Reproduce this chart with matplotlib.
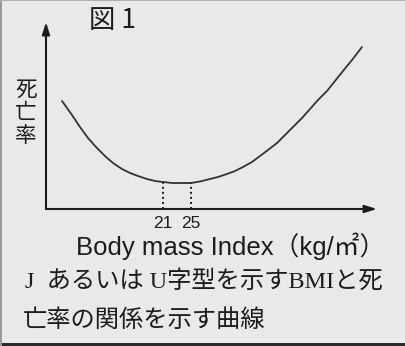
import matplotlib
matplotlib.use("Agg")
import matplotlib.pyplot as plt
from matplotlib.patches import Rectangle

# ---- data (schematic U-shaped curve) ----
bmi = [6.57, 7.29, 8.0, 9.14, 10.29, 11.43, 12.71, 13.86, 15.14, 16.29,
       17.43, 18.71, 19.86, 21.0, 22.29, 23.71, 25.0, 26.29, 27.71, 28.86,
       30.14, 31.29, 32.43, 33.71, 34.86, 36.0, 37.29, 38.43, 39.57, 40.86,
       42.0, 43.14, 44.43, 45.57, 46.71, 48.0, 49.43]
mortality = [108, 101, 94, 82, 71, 62, 53, 46, 40, 36,
             33, 30, 28, 27, 26, 26, 26, 27.5, 30, 32,
             35, 38, 42, 47, 53, 59, 66, 74, 82, 91,
             100, 109, 118, 128, 138, 149, 162]
ref_bmi = [21, 25]
ref_level = [27, 26]
tick_labels = ["21", "25"]

title = "図 1"
ylabel_chars = ["死", "亡", "率"]
xlabel = "Body mass Index（kg/㎡）"
caption = ["J  あるいは U字型を示すBMIと死", "亡率の関係を示す曲線"]

W, H = 406, 346
BG = "#e9e9e9"
INK = "#1c1c1c"

fig = plt.figure(figsize=(W / 100, H / 100), dpi=100, facecolor=BG)

def fx(px):
    return px / W

def fy(py):
    return 1 - py / H

# axes spanning from axis origin (46,209) to arrow tips (377,22)
x0, y0, x1, y1 = 46, 209, 377, 22
ax = fig.add_axes([fx(x0), fy(y0), (x1 - x0) / W, (y0 - y1) / H])
ax.set_facecolor("none")
ax.set_xlim(4.29, 51.57)
ax.set_ylim(0, 187)
for s in ax.spines.values():
    s.set_visible(False)

ax.plot(bmi, mortality, color="#333333", lw=1.3, solid_capstyle="round",
        solid_joinstyle="round")
for b, lv in zip(ref_bmi, ref_level):
    ax.plot([b, b], [0, lv], color=INK, lw=1.4, linestyle=(0, (1, 1.6)))

ax.set_xticks(ref_bmi)
ax.set_xticklabels(tick_labels, fontsize=12.5, color=INK, family="Liberation Sans")
ax.tick_params(axis="x", length=0, pad=5)
ax.set_yticks([])

arrow = dict(arrowstyle="-|>,head_length=0.9,head_width=0.28", color=INK,
             lw=1.5, mutation_scale=8, shrinkA=0, shrinkB=0)
ax.annotate("", xy=(1, 0), xytext=(0, 0), xycoords="axes fraction",
            textcoords="axes fraction", arrowprops=arrow)
ax.annotate("", xy=(0, 1), xytext=(0, 0), xycoords="axes fraction",
            textcoords="axes fraction", arrowprops=arrow)

# texts
fig.text(fx(113), fy(21), title, fontsize=19, color=INK, ha="center", va="center",
         family=["Noto Sans CJK JP", "DejaVu Sans"])
for i, ch in enumerate(ylabel_chars):
    fig.text(fx(26), fy(90 + 23 * i), ch, fontsize=15.5, color=INK, ha="center",
             va="center", family=["Noto Sans CJK JP"])
fig.text(fx(231), fy(246), xlabel, fontsize=18.5, color=INK, ha="center", va="center",
         family=["Liberation Sans", "Noto Sans CJK JP"])
fig.text(fx(25), fy(281), caption[0], fontsize=17.5, color=INK, ha="left", va="center",
         family=["Liberation Serif", "Noto Sans CJK JP"])
fig.text(fx(23), fy(321), caption[1], fontsize=17.5, color=INK, ha="left", va="center",
         family=["Liberation Serif", "Noto Sans CJK JP"])

# scan borders
fig.add_artist(Rectangle((0, 0), 1, 3 / H, transform=fig.transFigure,
                         color="#2a2a2a", lw=0))
fig.add_artist(Rectangle((0, 0), 2 / W, 1, transform=fig.transFigure,
                         color="#9a9a9a", lw=0))
fig.add_artist(Rectangle((0, 1 - 1 / H), 1, 1 / H, transform=fig.transFigure,
                         color="#b0b0b0", lw=0))

fig.savefig("out.png", dpi=100, facecolor=BG)
